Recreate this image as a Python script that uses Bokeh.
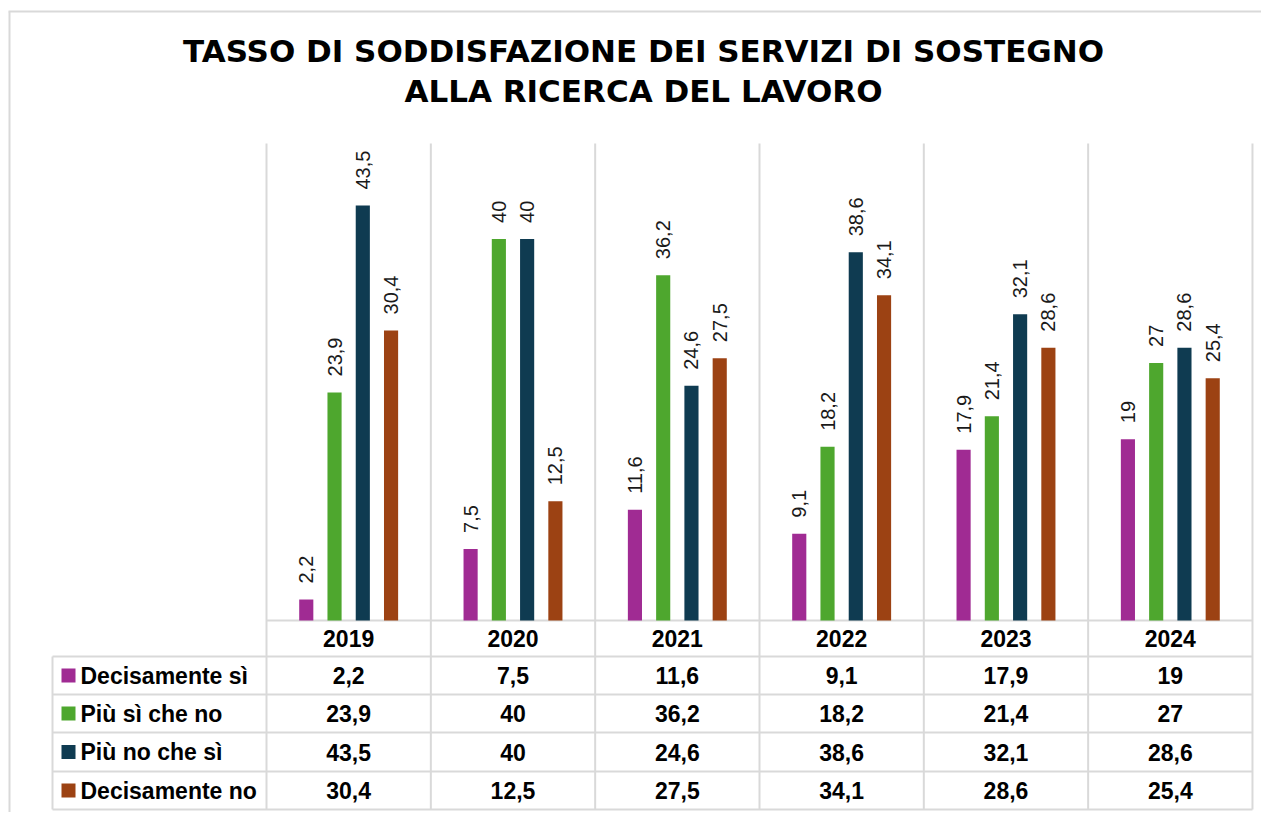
import math
from bokeh.plotting import figure
from bokeh.models import Range1d, ColumnDataSource, Label
from bokeh.core.properties import value
from bokeh.embed import file_html
from bokeh.resources import INLINE

# ---------------- data ----------------
years = ["2019", "2020", "2021", "2022", "2023", "2024"]
series_names = ["Decisamente sì", "Più sì che no", "Più no che sì", "Decisamente no"]
decisamente_si = [2.2, 7.5, 11.6, 9.1, 17.9, 19]
piu_si_che_no = [23.9, 40, 36.2, 18.2, 21.4, 27]
piu_no_che_si = [43.5, 40, 24.6, 38.6, 32.1, 28.6]
decisamente_no = [30.4, 12.5, 27.5, 34.1, 28.6, 25.4]
title_lines = ["TASSO DI SODDISFAZIONE DEI SERVIZI DI SOSTEGNO", "ALLA RICERCA DEL LAVORO"]

series_values = [decisamente_si, piu_si_che_no, piu_no_che_si, decisamente_no]
colors = ["#A02B93", "#4EA72E", "#0F3B51", "#9C4213"]

def fmt(v):
    return f"{v:g}".replace(".", ",")

# ---------------- layout (canvas pixels) ----------------
W, H = 1261, 812
PLOT_L = 266.0      # left edge of first category
CAT_W = 164.33      # px per category
BASE = 620.0        # y px of value 0
PPU = 9.54          # px per value unit
YMAX = 50

def px2x(px):
    return (px - PLOT_L) / CAT_W

def py2y(py):
    return (BASE - py) / PPU

p = figure(width=W, height=H,
           x_range=Range1d(px2x(0), px2x(W)),
           y_range=Range1d(py2y(H), py2y(0)),
           output_backend="svg", toolbar_location=None,
           x_axis_type=None, y_axis_type=None,
           min_border=0, min_border_left=0, min_border_right=0,
           min_border_top=0, min_border_bottom=0)
p.outline_line_color = None
p.background_fill_color = "white"
p.border_fill_color = "white"

GRID = "#d9d9d9"
FONT = "Liberation Sans"

# outer chart border (top & left)
p.segment(x0=[px2x(8), px2x(9)], y0=[py2y(11), py2y(11)],
          x1=[px2x(W), px2x(9)], y1=[py2y(11), py2y(H)],
          line_color=GRID, line_width=2)

# table row boundaries (canvas px)
row_edges_px = [620, 656, 694, 732, 771, 809]
row_edges = [py2y(v) for v in row_edges_px]
LEFT_COL = px2x(52)
ncat = len(years)

# vertical lines (chart + table)
p.segment(x0=list(range(ncat + 1)), y0=[YMAX] * (ncat + 1),
          x1=list(range(ncat + 1)), y1=[row_edges[-1]] * (ncat + 1),
          line_color=GRID, line_width=2)
p.segment(x0=[LEFT_COL], y0=[row_edges[1]], x1=[LEFT_COL], y1=[row_edges[-1]],
          line_color=GRID, line_width=2)
# horizontal lines
hx0 = [0] + [LEFT_COL] * 5
p.segment(x0=hx0, y0=row_edges, x1=[ncat] * 6, y1=row_edges,
          line_color=GRID, line_width=2)

# bars
offsets = [-0.258, -0.086, 0.086, 0.258]
BAR_W = 0.086
for k, (name, vals, col) in enumerate(zip(series_names, series_values, colors)):
    xs = [i + 0.5 + offsets[k] for i in range(ncat)]
    src = ColumnDataSource(dict(x=xs, top=vals, lab=[fmt(v) for v in vals]))
    p.vbar(x="x", top="top", bottom=0, width=BAR_W, source=src,
           fill_color=col, line_color=None)
    p.text(x="x", y="top", text="lab", source=src, angle=math.pi / 2,
           text_align="left", text_baseline="middle", y_offset=-16,
           text_font=value(FONT), text_font_size="20px", text_color="#1a1a1a")

# table: header years
hy = (row_edges[0] + row_edges[1]) / 2
p.text(x=[i + 0.5 for i in range(ncat)], y=[hy] * ncat, text=years,
       text_align="center", text_baseline="middle", text_font=value(FONT),
       text_font_style="bold", text_font_size="23px", text_color="#000000")

# table: series rows
for k, (name, vals, col) in enumerate(zip(series_names, series_values, colors)):
    ry = (row_edges[k + 1] + row_edges[k + 2]) / 2
    p.text(x=[i + 0.5 for i in range(ncat)], y=[ry] * ncat,
           text=[fmt(v) for v in vals],
           text_align="center", text_baseline="middle", text_font=value(FONT),
           text_font_style="bold", text_font_size="23px", text_color="#000000")
    p.rect(x=[px2x(68)], y=[ry], width=14, height=14, width_units="screen",
           height_units="screen", fill_color=col, line_color=None)
    p.text(x=[px2x(80)], y=[ry], text=[name], text_align="left",
           text_baseline="middle", text_font=value(FONT), text_font_style="bold",
           text_font_size="23px", text_color="#000000")

# title
for j, line in enumerate(title_lines):
    p.add_layout(Label(x=643, y=H - (50 + 40 * j), x_units="screen", y_units="screen",
                       text=line, text_align="center", text_baseline="middle",
                       text_font="DejaVu Sans", text_font_style="bold",
                       text_font_size="31px", text_color="#000000"))

open("out.html", "w").write(file_html(p, INLINE))
